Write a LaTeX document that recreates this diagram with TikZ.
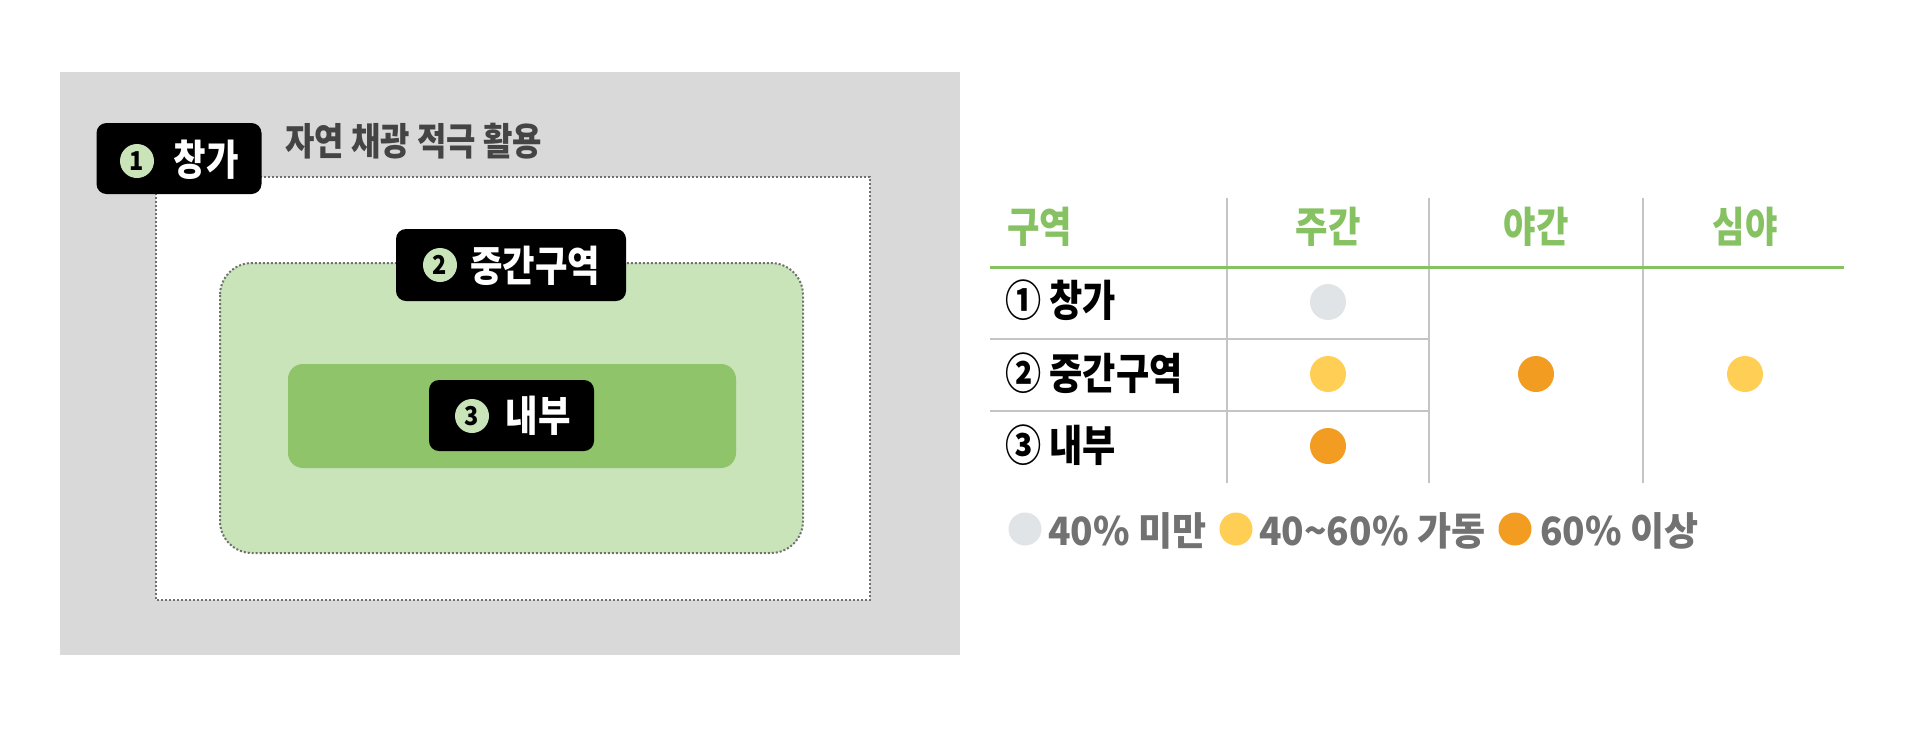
\documentclass[tikz,border=0pt]{standalone}
\usepackage{fontspec}
\setmainfont{Noto Sans CJK KR}[FakeStretch=0.84]
\newfontfamily\numfont{Noto Sans CJK KR}[FakeStretch=0.9]
\newfontfamily\legfont{Noto Sans CJK KR}[FakeStretch=0.95]
\definecolor{bggray}{HTML}{D9D9D9}
\definecolor{lgreen}{HTML}{C8E4B8}
\definecolor{dgreen}{HTML}{8FC46A}
\definecolor{hgreen}{HTML}{86C162}
\definecolor{dotgray}{HTML}{707070}
\definecolor{linegray}{HTML}{C4C4C4}
\definecolor{cgray}{HTML}{E1E4E6}
\definecolor{cyellow}{HTML}{FFCE55}
\definecolor{corange}{HTML}{F29C22}
\definecolor{legtext}{HTML}{727272}
\definecolor{subtext}{HTML}{444444}
\tikzset{
  x=1pt, y=-1pt,
  dotline/.style={draw=dotgray, line width=2, dash pattern=on 2 off 2},
  labbox/.style={fill=black, rounded corners=10, inner sep=0},
  numcirc/.style={circle, fill=lgreen, inner sep=0, minimum size=34, font=\numfont\bfseries\fontsize{26}{28}\selectfont},
  labtext/.style={text=white, font=\bfseries\fontsize{42}{48}\selectfont, inner sep=0},
  hdr/.style={text=hgreen, font=\bfseries\fontsize{42}{46}\selectfont, inner sep=0},
  rowlab/.style={text=black, font=\bfseries\fontsize{43}{48}\selectfont, inner sep=0, anchor=west},
  tline/.style={draw=linegray, line width=2.5},
  gline/.style={draw=hgreen, line width=3},
  dotc/.style={circle, inner sep=0, minimum size=36},
  legdot/.style={circle, inner sep=0, minimum size=33},
  legtxt/.style={text=legtext, font=\legfont\bfseries\fontsize{39}{42}\selectfont, inner sep=0, anchor=west},
}
\begin{document}
\begin{tikzpicture}
\useasboundingbox (0,0) rectangle (1920,729);
% left panel
\fill[bggray] (60,72) rectangle (960,655);
\fill[white] (156,177) rectangle (870,600);
\draw[dotline] (156,177) rectangle (870,600);
\fill[lgreen, rounded corners=32] (220,263) rectangle (803,553);
\draw[dotline, rounded corners=32] (220,263) rectangle (803,553);
\fill[dgreen, rounded corners=15] (288,364) rectangle (736,468);
% label 1
\node[labbox, minimum width=165, minimum height=71] (lab1) at (179,158.5) {};
\node[numcirc] (n1) at (137,161) {1};
\node[labtext] (t1) at (206,160) {창가};
\node[text=subtext, font=\bfseries\fontsize{38}{42}\selectfont, inner sep=0, anchor=west] (sub1) at (285,141) {자연 채광 적극 활용};
% label 2
\node[labbox, minimum width=230, minimum height=72] (lab2) at (511,265) {};
\node[numcirc] (n2) at (440,265) {2};
\node[labtext] (t2) at (535,266) {중간구역};
% label 3
\node[labbox, minimum width=165, minimum height=71] (lab3) at (511.5,415.5) {};
\node[numcirc] (n3) at (472,416) {3};
\node[labtext] (t3) at (538,416) {내부};
% table lines
\coordinate (v1t) at (1227,198); \coordinate (v1b) at (1227,483);
\coordinate (v2t) at (1429,198); \coordinate (v2b) at (1429,483);
\coordinate (v3t) at (1643,198); \coordinate (v3b) at (1643,483);
\draw[tline] (v1t) -- (v1b);
\draw[tline] (v2t) -- (v2b);
\draw[tline] (v3t) -- (v3b);
\coordinate (h1l) at (990,339); \coordinate (h1r) at (1429,339);
\coordinate (h2l) at (990,411); \coordinate (h2r) at (1429,411);
\draw[tline] (h1l) -- (h1r);
\draw[tline] (h2l) -- (h2r);
\coordinate (gl) at (990,267); \coordinate (gr) at (1844,267);
\draw[gline] (gl) -- (gr);
% headers
\node[hdr, anchor=west] (h0) at (1007,227) {구역};
\node[hdr] (h1) at (1328,227) {주간};
\node[hdr] (h2) at (1536,227) {야간};
\node[hdr] (h3) at (1745,227) {심야};
% row labels
\node[rowlab] (r1) at (1005,300) {① 창가};
\node[rowlab] (r2) at (1005,373) {② 중간구역};
\node[rowlab] (r3) at (1005,445) {③ 내부};
% dots
\node[dotc, fill=cgray] (d11) at (1328,302) {};
\node[dotc, fill=cyellow] (d21) at (1328,374) {};
\node[dotc, fill=corange] (d31) at (1328,446) {};
\node[dotc, fill=corange] (d22) at (1536,374) {};
\node[dotc, fill=cyellow] (d23) at (1745,374) {};
% legend
\node[legdot, fill=cgray] (ld1) at (1025,529) {};
\node[legtxt] (lt1) at (1048,531) {40\% 미만};
\node[legdot, fill=cyellow] (ld2) at (1236,529) {};
\node[legtxt] (lt2) at (1259,531) {40\char"007E 60\% 가동};
\node[legdot, fill=corange] (ld3) at (1515,529) {};
\node[legtxt] (lt3) at (1540,531) {60\% 이상};
\end{tikzpicture}
\end{document}
